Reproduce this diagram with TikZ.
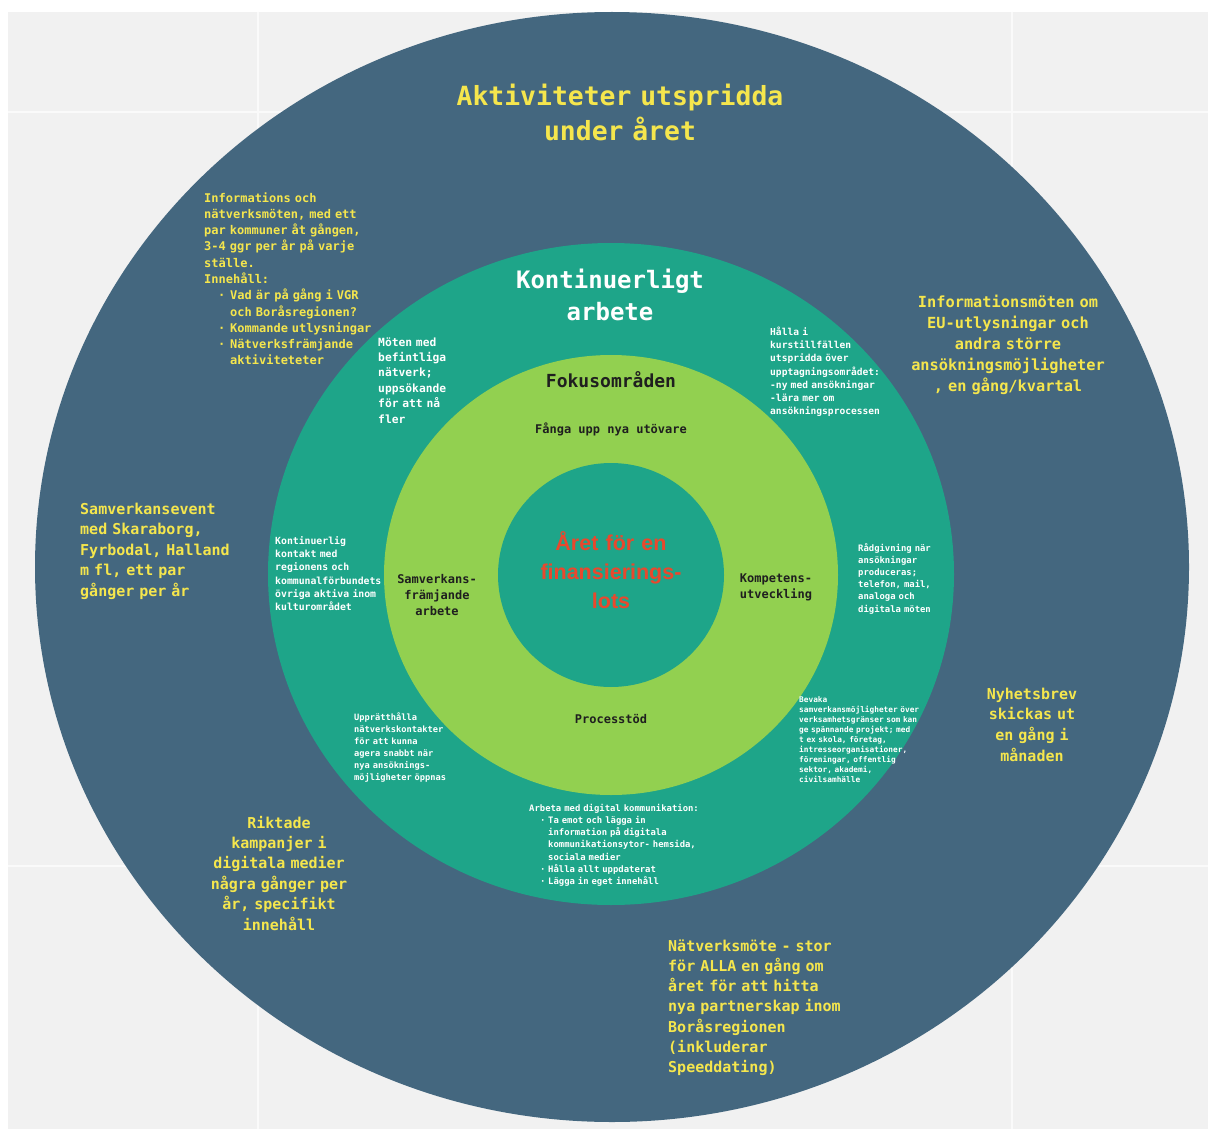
\documentclass[tikz,border=0pt]{standalone}
\usepackage{fontspec}
\setmonofont{DejaVu Sans Mono}
\newfontfamily\lotsfont{Liberation Sans}
\usetikzlibrary{positioning}
\definecolor{Paper}{HTML}{F1F1F1}
\definecolor{Gridline}{HTML}{FAFAFA}
\definecolor{Slate}{HTML}{44677F}
\definecolor{Teal}{HTML}{1EA589}
\definecolor{Leaf}{HTML}{92D050}
\definecolor{Lemon}{HTML}{F5E64D}
\definecolor{Coral}{HTML}{E9482D}
\definecolor{Charcoal}{HTML}{1F1F1F}
\newcommand{\itemdot}[2]{\makebox[#2][l]{\hspace*{#1}·}}
\newcommand{\monosize}[2]{\ttfamily\bfseries\fontsize{#1}{#2}\selectfont\fontdimen2\font=0.602em\fontdimen3\font=0pt\fontdimen4\font=0pt}
\tikzset{yellowtext/.style 2 args={text=Lemon,inner sep=0pt,anchor=base west,align=left,font=\monosize{#1}{#2}},whitetext/.style 2 args={text=white,inner sep=0pt,anchor=base west,align=left,font=\monosize{#1}{#2}},darktext/.style 2 args={text=Charcoal,inner sep=0pt,anchor=base,align=center,font=\monosize{#1}{#2}},centred/.style={anchor=base,align=center}}

\begin{document}
\begin{tikzpicture}[x=1pt,y=-1pt]
\useasboundingbox (0,0) rectangle (1208,1129);
\fill[white] (0,0) rectangle (1208,1129);\fill[Paper] (8,12) rectangle (1208,1129);
\draw[Gridline,line width=1.5pt] (258,12)--(258,1129) (1012,12)--(1012,1129) (8,112)--(1208,112) (8,866)--(1208,866);
% concentric rings
\fill[Slate] (612,567) ellipse [x radius=577pt,y radius=555pt];
\fill[Teal] (611,574) ellipse [x radius=343pt,y radius=331pt];
\fill[Leaf] (611,575) ellipse [x radius=227pt,y radius=220pt];
\fill[Teal] (611,575) ellipse [x radius=113pt,y radius=112pt];
% outer ring: activities during the year
\node[yellowtext={26.4}{35},centred,text width=400pt] (yearTitle) at (620,106) {Aktiviteter utspridda\\under året};
\node[yellowtext={12}{16.3},text width=180pt] (infoMeetings) at (204,202) {Informations och\\nätverksmöten, med ett\\par kommuner åt gången,\\3-4 ggr per år på varje\\ställe.\\Innehåll:\\\itemdot{14pt}{26pt}Vad är på gång i VGR\\\hspace*{26pt}och Boråsregionen?\\\itemdot{14pt}{26pt}Kommande utlysningar\\\itemdot{14pt}{26pt}Nätverksfrämjande\\\hspace*{26pt}aktiviteteter};
\node[yellowtext={15.3}{21},centred,text width=200pt] (euMeetings) at (1008,307.5) {Informationsmöten om\\EU-utlysningar och\\andra större\\ansökningsmöjligheter\\, en gång/kvartal};
\node[yellowtext={15}{20.5},text width=165pt] (coopEvent) at (80,514) {Samverkansevent\\med Skaraborg,\\Fyrbodal, Halland\\m fl, ett par\\gånger per år};
\node[yellowtext={15}{20.7},centred,text width=110pt] (newsletter) at (1032,699) {Nyhetsbrev\\skickas ut\\en gång i\\månaden};
\node[yellowtext={15}{20.4},centred,text width=150pt] (campaigns) at (279,828) {Riktade\\kampanjer i\\digitala medier\\några gånger per\\år, specifikt\\innehåll};
\node[yellowtext={15}{20.3},text width=190pt] (bigMeeting) at (668,951) {Nätverksmöte - stor\\för ALLA en gång om\\året för att hitta\\nya partnerskap inom\\Boråsregionen\\(inkluderar\\Speeddating)};
% middle ring: continuous work
\node[whitetext={24}{32},centred,text width=260pt] (workTitle) at (610,288) {Kontinuerligt\\arbete};
\node[whitetext={11.3}{15.4},text width=80pt] (networkNote) at (378,346) {Möten med\\befintliga\\nätverk;\\uppsökande\\för att nå\\fler};
\node[whitetext={9.6}{13.2},text width=125pt] (courseNote) at (770,335.4) {Hålla i\\kurstillfällen\\utspridda över\\upptagningsområdet:\\-ny med ansökningar\\-lära mer om\\ansökningsprocessen};
\node[whitetext={9.8}{13.2},text width=112pt] (contactNote) at (275,544.5) {Kontinuerlig\\kontakt med\\regionens och\\kommunalförbundets\\övriga aktiva inom\\kulturområdet};
\node[whitetext={8.9}{12.2},text width=80pt] (adviceNote) at (858,551) {Rådgivning när\\ansökningar\\produceras;\\telefon, mail,\\analoga och\\digitala möten};
\node[whitetext={8.7}{12},text width=100pt] (keepNote) at (354,720) {Upprätthålla\\nätverkskontakter\\för att kunna\\agera snabbt när\\nya ansöknings-\\möjligheter öppnas};
\node[whitetext={7.8}{10.1},text width=130pt] (watchNote) at (799,702) {Bevaka\\samverkansmöjligheter över\\verksamhetsgränser som kan\\ge spännande projekt; med\\t ex skola, företag,\\intresseorganisationer,\\föreningar, offentlig\\sektor, akademi,\\civilsamhälle};
\node[whitetext={8.9}{12.3},text width=185pt] (digitalNote) at (529,811) {Arbeta med digital kommunikation:\\\itemdot{11pt}{19pt}Ta emot och lägga in\\\hspace*{19pt}information på digitala\\\hspace*{19pt}kommunikationsytor- hemsida,\\\hspace*{19pt}sociala medier\\\itemdot{11pt}{19pt}Hålla allt uppdaterat\\\itemdot{11pt}{19pt}Lägga in eget innehåll};
% focus ring
\node[darktext={18}{22}] (focusTitle) at (611,387) {Fokusområden};
\node[darktext={12}{16}] (newActors) at (611,433) {Fånga upp nya utövare};
\node[darktext={12}{16},text width=90pt] (coopFocus) at (437,583) {Samverkans-\\främjande\\arbete};
\node[darktext={12}{16},text width=90pt] (skillFocus) at (776,582) {Kompetens-\\utveckling};
\node[darktext={12}{16}] (processFocus) at (611,723) {Processtöd};
% core
\node[text=Coral,inner sep=0pt,font=\lotsfont\bfseries\fontsize{21.5}{29}\selectfont,centred,text width=200pt] (coreTitle) at (611,550.5) {Året för en\\finansierings-\\lots};
\end{tikzpicture}
\end{document}
